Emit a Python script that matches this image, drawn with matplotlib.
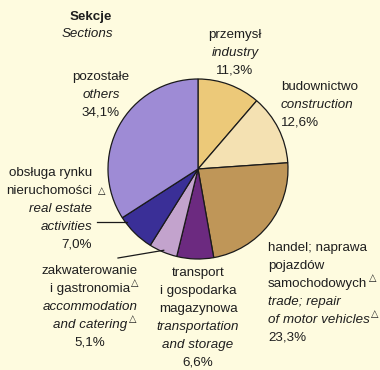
import numpy as np
import matplotlib.pyplot as plt

plt.rcParams['font.family'] = ['Liberation Sans', 'DejaVu Sans']

# udział sekcji (%)
pl_labels = ["przemysł", "budownictwo", "handel; naprawa\npojazdów\nsamochodowych△",
             "transport\ni gospodarka\nmagazynowa", "zakwaterowanie\ni gastronomia△",
             "obsługa rynku\nnieruchomości△", "pozostałe"]
en_labels = ["industry", "construction", "trade; repair\nof motor vehicles△",
             "transportation\nand storage", "accommodation\nand catering△",
             "real estate\nactivities", "others"]
shares = [11.3, 12.6, 23.3, 6.6, 5.1, 7.0, 34.1]
colors = ["#ecc979", "#f4e1b2", "#bf9658", "#6c2a80", "#c3a3cd", "#3a2f97", "#9e8bd5"]

W, H = 380, 370
BG = "#fefbdf"
TXT = "#1e1e1e"
PITCH = 17.9
FS = 9.6

# x, górna linia (piksele od góry), wyrównanie
layout = [(235, 35, "center"), (281, 87, "left"), (268, 248, "left"),
          (198, 273, "center"), (90, 271, "center"), (92, 173, "right"),
          (101, 77, "center")]

fig = plt.figure(figsize=(W / 100, H / 100), dpi=100, facecolor=BG)
ax = fig.add_axes([0, 0, 1, 1])
ax.set_facecolor(BG)

cx, cy, r = 198, H - 169, 90
wedges, _ = ax.pie(shares, colors=colors, startangle=90, counterclock=False,
                   center=(cx, cy), radius=r,
                   wedgeprops=dict(edgecolor="#1a1a1a", linewidth=0.9))
ax.set_xlim(0, W)
ax.set_ylim(0, H)
ax.set_aspect("equal")
ax.axis("off")


def put_line(x, y, s, ha, style, low_tri=False):
    tri = s.endswith("△")
    if tri:
        s = s[:-1]
    t = ax.text(x, H - y, s, ha=ha, va="center", fontsize=FS, color=TXT,
                style=style)
    if tri:
        if low_tri:
            ax.annotate("△", xy=(1, 0.1), xycoords=t, xytext=(4, 0),
                        textcoords="offset points", ha="left", va="bottom",
                        fontsize=7, color=TXT, family="DejaVu Sans")
        else:
            ax.annotate("△", xy=(1, 0.55), xycoords=t, xytext=(1, 0),
                        textcoords="offset points", ha="left", va="bottom",
                        fontsize=7, color=TXT, family="DejaVu Sans")


for i, (x, y0, ha) in enumerate(layout):
    lines = [(s, "normal") for s in pl_labels[i].split("\n")]
    lines += [(s, "italic") for s in en_labels[i].split("\n")]
    lines.append((f"{shares[i]:.1f}".replace(".", ",") + "%", "normal"))
    for k, (s, st) in enumerate(lines):
        put_line(x, y0 + k * PITCH, s, ha, st, low_tri=(ha == "right"))

# tytuł
ax.text(91, H - 17, "Sekcje", ha="center", va="center", fontsize=FS,
        fontweight="bold", color=TXT)
ax.text(87, H - 34, "Sections", ha="center", va="center", fontsize=FS,
        style="italic", color=TXT)

# linie odniesienia
ly = H - 222
lx = cx - np.sqrt(r ** 2 - (ly - cy) ** 2)
ax.plot([97, lx + 2], [ly, ly], color="#1a1a1a", lw=0.9)

w = wedges[4]
mid = np.deg2rad((w.theta1 + w.theta2) / 2)
ax.plot([118, cx + r * 0.98 * np.cos(mid)], [H - 258, cy + r * 0.98 * np.sin(mid)],
        color="#1a1a1a", lw=0.9)

fig.savefig("out.png", dpi=100, facecolor=BG)
